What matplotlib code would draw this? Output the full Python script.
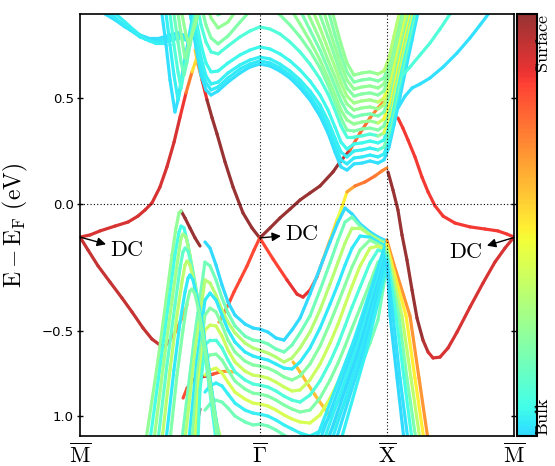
import numpy as np
import matplotlib
matplotlib.use("Agg")
import matplotlib.pyplot as plt
from matplotlib.collections import LineCollection
from matplotlib.colors import LinearSegmentedColormap, Normalize
from matplotlib.cm import ScalarMappable

plt.rcParams["mathtext.fontset"] = "cm"
plt.rcParams["font.family"] = ["DejaVu Sans"]

# ---------------- path / axes ----------------
K_TICKS = [0.0, 1.414, 2.414, 3.414]
K_LABELS = [r"$\overline{\mathrm{M}}$", r"$\overline{\Gamma}$",
            r"$\overline{\mathrm{X}}$", r"$\overline{\mathrm{M}}$"]
E_TICKS = [0.5, 0.0, -0.6, -1.0]
E_TICKLABELS = ["0.5", "0.0", "\u22120.5", "1.0"]
E_MIN, E_MAX = -1.094, 0.896

# Dirac crossings and their label positions
DC_POINTS = [(0.0, -0.156), (1.414, -0.160), (3.414, -0.158)]
DC_TEXT = [(0.37, -0.217), (1.746, -0.142), (3.036, -0.226)]

# ---------------- surface states (k, E, surface weight) ----------------
S1_K = [0.0, 0.079, 0.157, 0.276, 0.378, 0.456, 0.512, 0.566, 0.629, 0.684, 0.740, 0.787, 0.834, 0.881, 0.921, 0.944]
S1_E = [-0.156, -0.146, -0.127, -0.104, -0.085, -0.057, -0.028, 0.005, 0.080, 0.175, 0.292, 0.410, 0.524, 0.623, 0.693, 0.750]
S1_W = [0.93] * 12 + [0.88, 0.75, 0.62, 0.5]

S2_K = [0.905, 0.928, 0.960, 0.999, 1.039, 1.078, 1.141, 1.204, 1.282, 1.353, 1.414]
S2_E = [0.726, 0.660, 0.585, 0.491, 0.406, 0.330, 0.198, 0.080, -0.042, -0.113, -0.160]
S2_W = [0.62, 0.78, 0.82, 1.0, 1.0, 1.0, 1.0, 1.0, 1.0, 1.0, 1.0]

S3_K = [1.414, 1.495, 1.573, 1.652, 1.731, 1.809, 1.888, 1.990, 2.045, 2.124, 2.203, 2.281, 2.344, 2.384]
S3_E = [-0.160, -0.113, -0.066, -0.024, 0.019, 0.052, 0.085, 0.151, 0.198, 0.255, 0.335, 0.406, 0.453, 0.481]
S3_W = [1.0] * 9 + [0.88, 0.8, 0.86, 0.75, 0.8]

S4_K = [1.414, 1.518, 1.628, 1.707, 1.754, 1.809, 1.864, 1.911, 1.967, 2.022, 2.061, 2.100, 2.163, 2.242, 2.320, 2.375, 2.414]
S4_E = [-0.160, -0.259, -0.358, -0.425, -0.439, -0.406, -0.344, -0.264, -0.170, -0.075, -0.014, 0.057, 0.085, 0.104, 0.132, 0.156, 0.170]
S4_W = [0.88, 0.88, 0.9, 0.92, 0.92, 0.9, 0.85, 0.8, 0.72, 0.65, 0.6, 0.72, 0.8, 0.82, 0.82, 0.8, 0.8]

S5_K = [2.423, 2.462, 2.501, 2.533, 2.572, 2.612, 2.651, 2.698, 2.738, 2.777, 2.832, 2.895, 2.966, 3.068, 3.170, 3.264, 3.343, 3.414]
S5_E = [0.151, 0.066, -0.028, -0.146, -0.264, -0.406, -0.538, -0.642, -0.698, -0.726, -0.722, -0.679, -0.604, -0.486, -0.373, -0.274, -0.208, -0.156]
S5_W = [1.0] * 8 + [0.93] * 10

S6_K = [2.501, 2.540, 2.580, 2.635, 2.690, 2.738, 2.793, 2.856, 2.950, 3.068, 3.186, 3.288, 3.359, 3.414]
S6_E = [0.406, 0.358, 0.302, 0.222, 0.127, 0.057, -0.009, -0.057, -0.090, -0.108, -0.118, -0.127, -0.142, -0.156]
S6_W = [0.9] * 14

S7_K = [0.0, 0.063, 0.142, 0.236, 0.330, 0.409, 0.496, 0.566, 0.629, 0.669, 0.708, 0.755, 0.802, 0.842]
S7_E = [-0.156, -0.217, -0.292, -0.368, -0.443, -0.509, -0.585, -0.637, -0.665, -0.670, -0.642, -0.599, -0.538, -0.476]
S7_W = [0.95] * 10 + [0.88, 0.85, 0.78, 0.7]

S8_K = [1.414, 1.369, 1.314, 1.259, 1.211, 1.172, 1.133, 1.093]
S8_E = [-0.160, -0.217, -0.292, -0.358, -0.415, -0.467, -0.514, -0.557]
S8_W = [0.88] * 6 + [0.8, 0.75]

S9_K = [0.795, 0.826, 0.865, 0.905, 0.944]
S9_E = [-0.033, -0.066, -0.113, -0.160, -0.198]
S9_W = [1.0] * 5

S10_K = [0.811, 0.843, 0.890, 0.945, 1.0, 1.047, 1.102, 1.157, 1.205]
S10_E = [-0.915, -0.868, -0.830, -0.816, -0.811, -0.802, -0.792, -0.788, -0.792]
S10_W = [0.85, 0.9, 0.92, 0.95, 0.92, 0.9, 0.82, 0.75, 0.7]

S11_K = [0.944, 0.921, 0.905]
S11_E = [-0.967, -1.033, -1.094]
S11_W = [1.0] * 3

S12_K = [1.676, 1.731, 1.786, 1.849, 1.904, 1.967]
S12_E = [-0.745, -0.792, -0.844, -0.901, -0.948, -1.0]
S12_W = [0.72] * 6

SURFACE = [(S1_K, S1_E, S1_W), (S2_K, S2_E, S2_W), (S3_K, S3_E, S3_W),
           (S4_K, S4_E, S4_W), (S5_K, S5_E, S5_W), (S6_K, S6_E, S6_W),
           (S7_K, S7_E, S7_W), (S8_K, S8_E, S8_W), (S9_K, S9_E, S9_W),
           (S10_K, S10_E, S10_W), (S11_K, S11_E, S11_W), (S12_K, S12_E, S12_W)]

# ---------------- bulk conduction: Gamma hump family ----------------
CG_K = [0.834, 0.873, 0.913, 0.952, 0.991, 1.031, 1.086, 1.164, 1.259, 1.337, 1.414, 1.495, 1.573, 1.652, 1.731, 1.809,
        1.888, 1.951, 2.006, 2.053, 2.100, 2.155, 2.218, 2.281, 2.344, 2.391, 2.431, 2.470, 2.517, 2.565, 2.612, 2.659]
CG_E = [
    [1.009, 0.877, 0.736, 0.608, 0.538, 0.514, 0.533, 0.575, 0.618, 0.646, 0.660, 0.651, 0.627, 0.594, 0.547, 0.491,
     0.415, 0.335, 0.245, 0.175, 0.160, 0.189, 0.193, 0.203, 0.193, 0.208, 0.269, 0.373, 0.505, 0.642, 0.774, 0.906],
    [1.033, 0.906, 0.774, 0.646, 0.571, 0.538, 0.552, 0.594, 0.637, 0.660, 0.675, 0.665, 0.642, 0.608, 0.566, 0.509,
     0.439, 0.363, 0.278, 0.208, 0.189, 0.217, 0.222, 0.231, 0.222, 0.236, 0.302, 0.410, 0.547, 0.679, 0.807, 0.934],
    [1.057, 0.934, 0.811, 0.689, 0.604, 0.566, 0.575, 0.618, 0.656, 0.679, 0.693, 0.684, 0.660, 0.627, 0.585, 0.533,
     0.467, 0.392, 0.311, 0.245, 0.222, 0.250, 0.255, 0.264, 0.255, 0.269, 0.340, 0.453, 0.585, 0.717, 0.844, 0.972],
    [1.104, 0.986, 0.868, 0.750, 0.665, 0.623, 0.627, 0.665, 0.703, 0.726, 0.741, 0.731, 0.708, 0.675, 0.632, 0.580,
     0.514, 0.443, 0.363, 0.292, 0.259, 0.283, 0.288, 0.297, 0.288, 0.302, 0.377, 0.491, 0.623, 0.750, 0.877, 1.0],
    [1.198, 1.080, 0.962, 0.844, 0.764, 0.717, 0.708, 0.745, 0.788, 0.816, 0.835, 0.825, 0.802, 0.764, 0.717, 0.660,
     0.590, 0.519, 0.443, 0.368, 0.316, 0.316, 0.321, 0.330, 0.321, 0.335, 0.415, 0.528, 0.660, 0.783, 0.906, 1.033],
    [1.292, 1.175, 1.057, 0.939, 0.844, 0.783, 0.755, 0.792, 0.858, 0.910, 0.939, 0.925, 0.892, 0.844, 0.788, 0.722,
     0.642, 0.561, 0.481, 0.406, 0.349, 0.344, 0.354, 0.358, 0.349, 0.368, 0.443, 0.557, 0.689, 0.811, 0.934, 1.057],
    [1.410, 1.292, 1.175, 1.057, 0.953, 0.877, 0.830, 0.858, 0.939, 1.009, 1.057, 1.038, 0.991, 0.925, 0.849, 0.769,
     0.679, 0.594, 0.514, 0.443, 0.396, 0.377, 0.387, 0.392, 0.382, 0.401, 0.476, 0.590, 0.717, 0.840, 0.962, 1.085],
    [1.505, 1.387, 1.269, 1.151, 1.047, 0.962, 0.892, 0.915, 1.009, 1.104, 1.175, 1.151, 1.094, 1.009, 0.915, 0.821,
     0.726, 0.637, 0.557, 0.486, 0.434, 0.410, 0.420, 0.425, 0.415, 0.434, 0.509, 0.623, 0.745, 0.868, 0.991, 1.113],
    [1.599, 1.481, 1.363, 1.245, 1.142, 1.057, 0.953, 0.962, 1.080, 1.198, 1.292, 1.264, 1.198, 1.094, 0.986, 0.877,
     0.774, 0.679, 0.599, 0.528, 0.472, 0.443, 0.453, 0.458, 0.448, 0.467, 0.542, 0.651, 0.774, 0.896, 1.019, 1.142],
    [1.693, 1.575, 1.458, 1.340, 1.236, 1.151, 1.033, 1.019, 1.151, 1.292, 1.410, 1.377, 1.302, 1.189, 1.066, 0.943,
     0.830, 0.731, 0.646, 0.571, 0.509, 0.476, 0.486, 0.491, 0.481, 0.500, 0.575, 0.679, 0.802, 0.925, 1.047, 1.170],
    [1.788, 1.670, 1.552, 1.434, 1.330, 1.245, 1.127, 1.080, 1.222, 1.387, 1.528, 1.491, 1.410, 1.292, 1.160, 1.019,
     0.892, 0.788, 0.693, 0.613, 0.547, 0.509, 0.519, 0.524, 0.514, 0.533, 0.604, 0.708, 0.830, 0.953, 1.075, 1.198],
    [1.882, 1.764, 1.646, 1.528, 1.425, 1.340, 1.222, 1.151, 1.292, 1.481, 1.646, 1.608, 1.519, 1.396, 1.255, 1.104,
     0.962, 0.844, 0.741, 0.656, 0.585, 0.542, 0.552, 0.557, 0.547, 0.566, 0.632, 0.736, 0.858, 0.981, 1.104, 1.226],
    [1.953, 1.858, 1.764, 1.670, 1.575, 1.505, 1.410, 1.340, 1.434, 1.623, 1.788, 1.741, 1.646, 1.519, 1.363, 1.198,
     1.047, 0.915, 0.797, 0.703, 0.623, 0.575, 0.585, 0.590, 0.580, 0.594, 0.660, 0.764, 0.887, 1.009, 1.132, 1.255],
    [2.047, 1.953, 1.858, 1.764, 1.670, 1.599, 1.505, 1.434, 1.528, 1.717, 1.906, 1.858, 1.764, 1.623, 1.481, 1.316,
     1.127, 0.986, 0.858, 0.755, 0.665, 0.608, 0.618, 0.623, 0.613, 0.627, 0.689, 0.792, 0.915, 1.038, 1.160, 1.283],
]
CG_W = [0.34, 0.35, 0.36, 0.37, 0.40, 0.47, 0.50, 0.46, 0.50, 0.52, 0.48, 0.50, 0.47, 0.50]
CG_W_RISE = [0.34, 0.36, 0.45, 0.37, 0.60, 0.47, 0.65, 0.46, 0.55, 0.62, 0.48, 0.50, 0.47, 0.55]
CG_RISE_FROM = 25

# top-left conduction sheets
TL_K = [[0.197, 0.276, 0.354, 0.449, 0.535, 0.630, 0.709, 0.772, 0.835],
        [0.244, 0.315, 0.394, 0.472, 0.551, 0.630, 0.709, 0.772, 0.835],
        [0.283, 0.354, 0.433, 0.512, 0.591, 0.654, 0.724, 0.787, 0.850]]
TL_E = [[0.896, 0.868, 0.835, 0.802, 0.783, 0.783, 0.797, 0.807, 0.792],
        [0.896, 0.858, 0.821, 0.788, 0.769, 0.769, 0.783, 0.792, 0.778],
        [0.896, 0.858, 0.816, 0.778, 0.759, 0.759, 0.774, 0.783, 0.769]]
TL_W = [0.34, 0.35, 0.36]

# V-shaped conduction pockets between M and Gamma
V_K = [[0.645, 0.677, 0.708, 0.747, 0.771, 0.810, 0.850, 0.889],
       [0.677, 0.708, 0.739, 0.771, 0.795, 0.826, 0.865, 0.897],
       [0.708, 0.739, 0.771, 0.795, 0.818, 0.850, 0.881, 0.905],
       [0.739, 0.771, 0.795, 0.818, 0.842, 0.865, 0.897, 0.913],
       [0.771, 0.802, 0.826, 0.850, 0.881, 0.920],
       [0.802, 0.834, 0.857, 0.881, 0.905, 0.928]]
V_E = [[0.896, 0.750, 0.585, 0.434, 0.491, 0.632, 0.764, 0.896],
       [0.896, 0.750, 0.608, 0.491, 0.561, 0.679, 0.797, 0.896],
       [0.896, 0.750, 0.623, 0.547, 0.623, 0.726, 0.821, 0.896],
       [0.896, 0.764, 0.670, 0.608, 0.670, 0.750, 0.840, 0.896],
       [0.896, 0.774, 0.689, 0.736, 0.802, 0.896],
       [0.896, 0.797, 0.750, 0.797, 0.844, 0.896]]
V_W = [0.34, 0.36, 0.40, 0.44, 0.48, 0.50]

# X -> M conduction bands
XM_K = [[2.502, 2.557, 2.612, 2.675, 2.753, 2.856, 2.966, 3.068, 3.147, 3.225],
        [2.533, 2.596, 2.675, 2.753, 2.832, 2.911, 2.950]]
XM_E = [[0.453, 0.509, 0.547, 0.566, 0.594, 0.646, 0.712, 0.783, 0.844, 0.906],
        [0.604, 0.646, 0.703, 0.759, 0.825, 0.896, 0.934]]
XM_W = [0.34, 0.40]

# ---------------- bulk valence ----------------
VB_K = [0.983, 1.023, 1.070, 1.117, 1.164, 1.219, 1.298, 1.361, 1.414, 1.479, 1.542, 1.605,
        1.668, 1.731, 1.809, 1.888, 1.967, 2.030, 2.085, 2.140, 2.203, 2.281, 2.344, 2.414]
VB_E = [
    [-0.179, -0.208, -0.288, -0.382, -0.462, -0.524, -0.566, -0.585, -0.590, -0.604, -0.632, -0.642,
     -0.594, -0.538, -0.425, -0.302, -0.179, -0.085, -0.019, -0.047, -0.094, -0.132, -0.156, -0.175],
    [-0.274, -0.292, -0.358, -0.443, -0.514, -0.575, -0.623, -0.642, -0.646, -0.660, -0.684, -0.698,
     -0.665, -0.608, -0.528, -0.406, -0.278, -0.170, -0.085, -0.061, -0.104, -0.142, -0.165, -0.184],
    [-0.358, -0.373, -0.429, -0.500, -0.557, -0.608, -0.656, -0.679, -0.689, -0.703, -0.722, -0.745,
     -0.726, -0.679, -0.604, -0.500, -0.377, -0.274, -0.184, -0.113, -0.113, -0.146, -0.170, -0.193],
    [-0.453, -0.420, -0.453, -0.524, -0.594, -0.651, -0.698, -0.717, -0.726, -0.736, -0.755, -0.774,
     -0.778, -0.745, -0.679, -0.585, -0.472, -0.377, -0.288, -0.208, -0.151, -0.156, -0.179, -0.203],
    [-0.524, -0.491, -0.509, -0.571, -0.642, -0.698, -0.741, -0.759, -0.764, -0.774, -0.792, -0.816,
     -0.830, -0.811, -0.755, -0.670, -0.561, -0.467, -0.382, -0.297, -0.217, -0.170, -0.189, -0.212],
    [-0.594, -0.571, -0.575, -0.623, -0.689, -0.745, -0.788, -0.807, -0.811, -0.821, -0.840, -0.863,
     -0.882, -0.877, -0.830, -0.755, -0.656, -0.566, -0.476, -0.387, -0.292, -0.208, -0.198, -0.222],
    [-0.665, -0.642, -0.642, -0.679, -0.736, -0.792, -0.830, -0.849, -0.854, -0.863, -0.882, -0.906,
     -0.925, -0.934, -0.901, -0.835, -0.745, -0.660, -0.575, -0.486, -0.392, -0.278, -0.217, -0.231],
    [-0.736, -0.712, -0.708, -0.736, -0.783, -0.835, -0.873, -0.892, -0.896, -0.906, -0.925, -0.948,
     -0.967, -0.981, -0.972, -0.915, -0.830, -0.750, -0.670, -0.585, -0.491, -0.373, -0.274, -0.241],
    [-0.807, -0.783, -0.774, -0.797, -0.840, -0.887, -0.920, -0.939, -0.943, -0.953, -0.972, -0.995,
     -1.014, -1.028, -1.033, -0.995, -0.915, -0.840, -0.764, -0.684, -0.590, -0.472, -0.368, -0.255],
    [-0.887, -0.858, -0.844, -0.858, -0.896, -0.939, -0.972, -0.986, -0.991, -1.0, -1.019, -1.042,
     -1.061, -1.080, -1.094, -1.071, -1.0, -0.929, -0.854, -0.778, -0.689, -0.571, -0.467, -0.274],
    [-0.972, -0.943, -0.925, -0.934, -0.962, -1.0, -1.028, -1.042, -1.038, -1.047, -1.066, -1.090,
     -1.113, -1.137, -1.160, -1.151, -1.080, -1.009, -0.934, -0.858, -0.774, -0.656, -0.547, -0.292],
]
VB_W = [0.33, 0.45, 0.55, 0.35, 0.48, 0.58, 0.40, 0.47, 0.60, 0.36, 0.45]

# steep left flanks of the valence arches near k = 1
BL_K = [[0.983, 0.897, 0.802], [0.983, 0.905, 0.826], [0.983, 0.920, 0.857],
        [0.983, 0.928, 0.881], [0.983, 0.936, 0.905], [0.983, 0.944, 0.928]]
BL_E = [[-0.274, -0.642, -1.113], [-0.358, -0.689, -1.113], [-0.453, -0.736, -1.113],
        [-0.524, -0.783, -1.113], [-0.594, -0.830, -1.113], [-0.665, -0.877, -1.113]]
BL_W = [0.45, 0.55, 0.35, 0.48, 0.58, 0.40]

# narrow valence arches between M and Gamma
ARCH_K = [[0.519, 0.614, 0.677, 0.724, 0.755, 0.779, 0.795],
          [0.551, 0.637, 0.700, 0.747, 0.779, 0.795, 0.818, 0.850, 0.889, 0.928, 0.968, 1.015, 1.070],
          [0.582, 0.661, 0.724, 0.771, 0.795, 0.810, 0.834, 0.865, 0.905, 0.944, 0.983, 1.031, 1.086],
          [0.614, 0.684, 0.747, 0.787, 0.810, 0.826, 0.850, 0.881, 0.920, 0.960, 0.999, 1.046, 1.101],
          [0.645, 0.708, 0.763, 0.802, 0.826, 0.842, 0.865, 0.897, 0.936, 0.975, 1.023, 1.070, 1.109],
          [0.677, 0.739, 0.787, 0.826, 0.850, 0.865, 0.889, 0.920, 0.960, 0.999, 1.046, 1.093],
          [0.708, 0.763, 0.810, 0.842, 0.865, 0.881, 0.905, 0.936, 0.975, 1.015, 1.062, 1.093]]
ARCH_E = [[-1.113, -0.736, -0.453, -0.241, -0.113, -0.042, -0.033],
          [-1.113, -0.736, -0.453, -0.241, -0.132, -0.104, -0.113, -0.193, -0.335, -0.476, -0.642, -0.854, -1.113],
          [-1.113, -0.736, -0.453, -0.255, -0.160, -0.142, -0.156, -0.241, -0.373, -0.524, -0.689, -0.901, -1.113],
          [-1.113, -0.759, -0.476, -0.302, -0.226, -0.208, -0.222, -0.302, -0.429, -0.580, -0.759, -0.948, -1.113],
          [-1.113, -0.783, -0.524, -0.368, -0.288, -0.269, -0.288, -0.368, -0.491, -0.642, -0.840, -1.019, -1.113],
          [-1.113, -0.783, -0.557, -0.415, -0.349, -0.335, -0.358, -0.439, -0.557, -0.712, -0.915, -1.113],
          [-1.113, -0.807, -0.594, -0.467, -0.410, -0.401, -0.425, -0.509, -0.642, -0.807, -0.995, -1.113]]
ARCH_W = [0.50, 0.38, 0.52, 0.42, 0.56, 0.35, 0.47]

# valence bands peaking at X: left and right flanks
XL_K = [[2.414, 2.155, 1.856], [2.414, 2.171, 1.888], [2.414, 2.187, 1.919], [2.414, 2.203, 1.951],
        [2.414, 2.218, 1.982], [2.414, 2.234, 2.014], [2.414, 2.250, 2.053]]
XL_E = [[-0.170, -0.642, -1.113], [-0.189, -0.651, -1.113], [-0.208, -0.660, -1.113], [-0.226, -0.670, -1.113],
        [-0.245, -0.679, -1.113], [-0.264, -0.689, -1.113], [-0.288, -0.698, -1.113]]
XL_W = [0.35, 0.34, 0.36, 0.33, 0.35, 0.34, 0.36]
XR_K = [[2.414, 2.454, 2.596, 2.667, 2.738], [2.414, 2.447, 2.565, 2.635, 2.706],
        [2.414, 2.439, 2.533, 2.604, 2.675], [2.414, 2.431, 2.509, 2.572, 2.643],
        [2.414, 2.431, 2.486, 2.549, 2.612], [2.414, 2.423, 2.462, 2.517, 2.580],
        [2.414, 2.423, 2.439, 2.494, 2.549]]
XR_E = [[-0.170, -0.255, -0.528, -0.821, -1.113], [-0.189, -0.269, -0.528, -0.821, -1.113],
        [-0.208, -0.278, -0.528, -0.821, -1.113], [-0.226, -0.288, -0.528, -0.821, -1.113],
        [-0.245, -0.311, -0.528, -0.821, -1.113], [-0.264, -0.321, -0.528, -0.821, -1.113],
        [-0.288, -0.349, -0.528, -0.821, -1.113]]
XR_W = [0.78, 0.66, 0.56, 0.46, 0.38, 0.34, 0.33]

# ---------------- colour scale ----------------
W_MIN, W_MAX = 0.33, 1.0
_jet = plt.get_cmap("jet")
_rgb = _jet(np.linspace(W_MIN, W_MAX, 256))[:, :3]
cmap = LinearSegmentedColormap.from_list("bulk_to_surface", 0.8 * _rgb + 0.2)
norm = Normalize(W_MIN, W_MAX)

LW = 2.3


def draw_band(ax, k, e, w, z=2):
    n = min(len(k), len(e))
    k = np.asarray(k[:n], float)
    e = np.asarray(e[:n], float)
    w = np.atleast_1d(np.asarray(w, float))
    w = np.full(n, w[0]) if w.size == 1 else w[:n]
    pts = np.column_stack([k, e])
    segs = np.stack([pts[:-1], pts[1:]], axis=1)
    lc = LineCollection(segs, cmap=cmap, norm=norm, linewidths=LW,
                        capstyle="round", zorder=z)
    lc.set_array(0.5 * (w[:-1] + w[1:]))
    ax.add_collection(lc)


fig = plt.figure(figsize=(5.55, 4.66), dpi=100)
ax = fig.add_axes([80 / 555, 30 / 466, 434 / 555, 422 / 466])
cax = fig.add_axes([517 / 555, 30 / 466, 20 / 555, 422 / 466])

# surface states (underneath)
for k, e, w in SURFACE:
    draw_band(ax, k, e, w, z=1.5)

# bulk conduction
for i, e in enumerate(CG_E):
    w = [CG_W[i]] * CG_RISE_FROM + [CG_W_RISE[i]] * (len(CG_K) - CG_RISE_FROM)
    draw_band(ax, CG_K, e, w)
for k, e, w in zip(TL_K, TL_E, TL_W):
    draw_band(ax, k, e, [w])
for k, e, w in zip(V_K, V_E, V_W):
    draw_band(ax, k, e, [w])
for k, e, w in zip(XM_K, XM_E, XM_W):
    draw_band(ax, k, e, [w])

# bulk valence
for e, w in zip(VB_E, VB_W):
    draw_band(ax, VB_K, e, [w])
for k, e, w in zip(BL_K, BL_E, BL_W):
    draw_band(ax, k, e, [w])
for k, e, w in zip(ARCH_K, ARCH_E, ARCH_W):
    draw_band(ax, k, e, [w])
for k, e, w in zip(XL_K, XL_E, XL_W):
    draw_band(ax, k, e, [w])
for k, e, w in zip(XR_K, XR_E, XR_W):
    draw_band(ax, k, e, [w])

# guides
for kx in K_TICKS[1:3]:
    ax.axvline(kx, color="k", lw=0.8, ls=(0, (1, 2)), zorder=5)
ax.axhline(0.0, color="k", lw=0.8, ls=(0, (1, 2)), zorder=5)

# Dirac-cone labels
for xy, xt in zip(DC_POINTS, DC_TEXT):
    ax.annotate(r"$\mathrm{DC}$", xy=xy, xytext=xt, fontsize=16,
                ha="center", va="center", zorder=6,
                arrowprops=dict(arrowstyle="<|-", color="k", lw=1.0,
                                shrinkA=1, shrinkB=0, mutation_scale=13))

ax.set_xlim(K_TICKS[0], K_TICKS[-1])
ax.set_ylim(E_MIN, E_MAX)
ax.set_xticks(K_TICKS)
ax.set_xticklabels(K_LABELS, fontsize=16)
ax.tick_params(axis="x", length=0, pad=5)
ax.set_yticks(E_TICKS)
ax.set_yticklabels(E_TICKLABELS, fontsize=9.5)
ax.tick_params(axis="y", left=True, right=True, direction="inout", length=5, width=1, pad=2)
for s in ax.spines.values():
    s.set_linewidth(1.2)
ax.set_ylabel(r"$\mathrm{E}-\mathrm{E}_{\mathrm{F}}\ \mathrm{(eV)}$", fontsize=17)
ax.yaxis.set_label_coords(-0.115, 0.5)

cb = fig.colorbar(ScalarMappable(norm=norm, cmap=cmap), cax=cax)
cb.set_ticks([])
cb.outline.set_linewidth(1.5)
fig.text(552 / 555, 1 - 14 / 466, r"$\mathrm{Surface}$", rotation=90,
         ha="right", va="top", fontsize=13)
fig.text(552 / 555, 30 / 466, r"$\mathrm{Bulk}$", rotation=90,
         ha="right", va="bottom", fontsize=13)

fig.savefig("out.png", dpi=100)
